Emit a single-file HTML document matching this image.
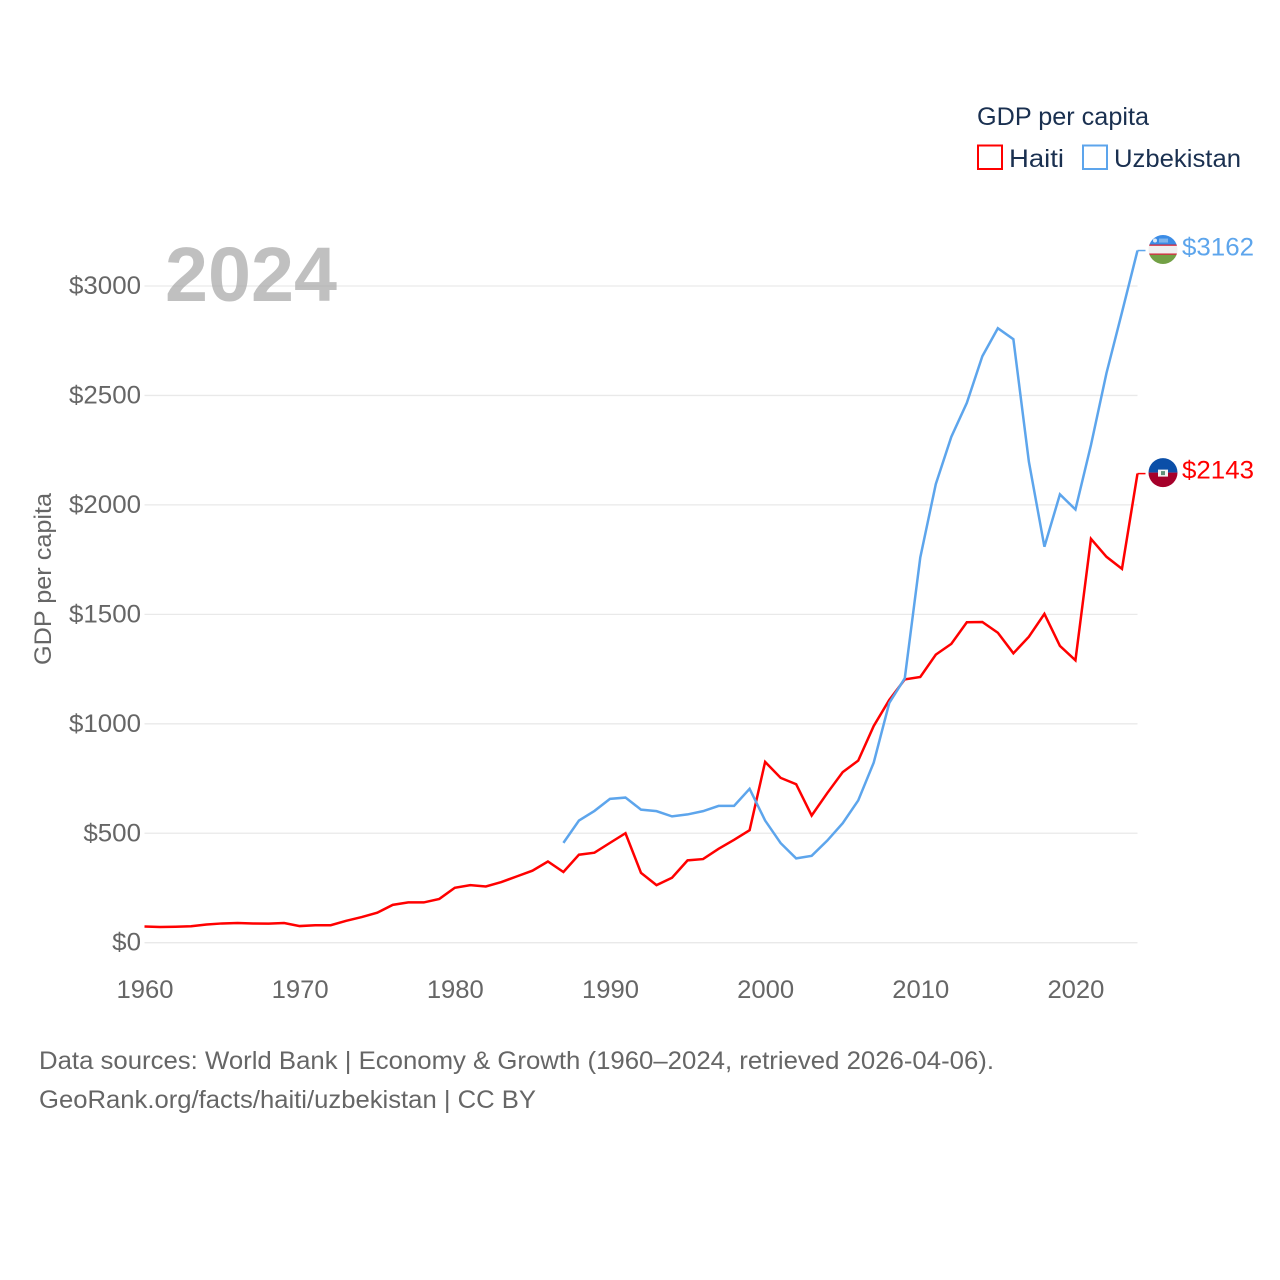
<!DOCTYPE html>
<html lang="en">
<head>
<meta charset="utf-8">
<title>GDP per capita: Haiti and Uzbekistan</title>
<style>
html,body{margin:0;padding:0;background:#fff;width:1280px;height:1280px;overflow:hidden}
svg{display:block;font-family:"Liberation Sans",sans-serif}
</style>
</head>
<body>
<svg id="chart" width="1280" height="1280" viewBox="0 0 1280 1280" xmlns="http://www.w3.org/2000/svg">
  <rect x="0" y="0" width="1280" height="1280" fill="#fff"/>
  <g id="grid"></g>
  <g id="yticks"></g>
  <g id="xticks"></g>
  <text transform="translate(51,579) rotate(-90)" text-anchor="middle" font-size="24" fill="#666" textLength="172" lengthAdjust="spacingAndGlyphs">GDP per capita</text>
  <text x="165" y="301" font-size="77" font-weight="700" fill="#a8a8a8" fill-opacity="0.72" textLength="172" lengthAdjust="spacingAndGlyphs">2024</text>
  <g id="series"></g>

  <g fill="#1a3050">
    <text x="977" y="125" font-size="25" textLength="172" lengthAdjust="spacingAndGlyphs">GDP per capita</text>
    <g>
      <rect x="978" y="145.500" width="24" height="23.500" fill="#fff" stroke="#ff0000" stroke-width="2"/>
      <text x="1009" y="167" font-size="25" textLength="55" lengthAdjust="spacingAndGlyphs">Haiti</text>
    </g>
    <g>
      <rect x="1083" y="145.500" width="24" height="23.500" fill="#fff" stroke="#5da5ec" stroke-width="2"/>
      <text x="1114" y="167" font-size="25" textLength="127" lengthAdjust="spacingAndGlyphs">Uzbekistan</text>
    </g>
  </g>

  <defs>
    <clipPath id="flag-clip"><circle cx="0" cy="0" r="14.500"/></clipPath>
  </defs>
  <g id="flag-uzbekistan" clip-path="url(#flag-clip)">
    <rect x="-15" y="-15" width="30" height="10" fill="#3b8ce6"/>
    <rect x="-15" y="-5" width="30" height="1.300" fill="#ce1126"/>
    <rect x="-15" y="-3.700" width="30" height="7.700" fill="#f0f0f0"/>
    <rect x="-15" y="4" width="30" height="1.300" fill="#ce1126"/>
    <rect x="-15" y="5.300" width="30" height="10" fill="#72a045"/>
    <circle cx="-8" cy="-9" r="2" fill="#dbe9f8"/>
    <rect x="-4" y="-11" width="9" height="4" fill="#7fb4ec"/>
  </g>
  <g id="flag-haiti" clip-path="url(#flag-clip)">
    <rect x="-15" y="-15" width="30" height="15" fill="#0b4fa8"/>
    <rect x="-15" y="0" width="30" height="15" fill="#a5002a"/>
    <rect x="-5" y="-3" width="10" height="7" fill="#f4f4f4"/>
    <rect x="-2" y="-1.500" width="4" height="4" fill="#5f8f78"/>
  </g>
  <text id="label-uzbekistan" x="1182" font-size="25" fill="#5da5ec" textLength="72" lengthAdjust="spacingAndGlyphs"></text>
  <text id="label-haiti" x="1182" font-size="25" fill="#ff0000" textLength="72" lengthAdjust="spacingAndGlyphs"></text>

  <g font-size="25" fill="#666">
    <text x="39" y="1069" textLength="955" lengthAdjust="spacingAndGlyphs">Data sources: World Bank | Economy &amp; Growth (1960–2024, retrieved 2026-04-06).</text>
    <text x="39" y="1108" textLength="497" lengthAdjust="spacingAndGlyphs">GeoRank.org/facts/haiti/uzbekistan | CC BY</text>
  </g>
</svg>
<script>
const yTickValues = [0, 500, 1000, 1500, 2000, 2500, 3000];
const xTickYears = [1960, 1970, 1980, 1990, 2000, 2010, 2020];
const haitiStartYear = 1960;
const haitiValues = [74, 72, 73, 75, 83, 88, 90, 88, 87, 90, 76, 80, 80, 100, 117, 137, 173, 184, 184, 200,
  251, 263, 257, 277, 303, 329, 371, 323, 402, 411, 456, 500, 319, 263, 297, 376, 382, 429, 470, 514,
  826, 753, 724, 581, 683, 779, 832, 990, 1109, 1203, 1214, 1316, 1365, 1464, 1465, 1416, 1322, 1398, 1502, 1356,
  1290, 1845, 1763, 1708, 2143];
const uzbekistanStartYear = 1987;
const uzbekistanValues = [456, 558, 602, 657, 663, 608, 601, 577, 586, 601, 625, 625, 703,
  558, 455, 385, 397, 466, 546, 650, 823, 1095, 1208, 1760, 2095, 2311, 2466, 2679, 2807, 2757, 2197, 1809, 2048,
  1979, 2273, 2602, 2880, 3162];

const NS = 'http://www.w3.org/2000/svg';
const x = year => 144.5 + (year - 1960) * (1137.5 - 144.5) / 64;
const y = value => 942.7 - value * 0.2189;
const plotRight = x(2024);

const grid = document.getElementById('grid');
const yticks = document.getElementById('yticks');
const xticks = document.getElementById('xticks');
const seriesGroup = document.getElementById('series');

yTickValues.forEach(v => {
  const line = document.createElementNS(NS, 'line');
  
  
  line.setAttribute('x1', x(1960));
  line.setAttribute('x2', plotRight);
  line.setAttribute('y1', y(v));
  line.setAttribute('y2', y(v));
  line.setAttribute('stroke', '#e9e9e9');
  line.setAttribute('stroke-width', '1.300');
  grid.appendChild(line);

  const label = document.createElementNS(NS, 'text');
  
  
  const s = '$' + v;
  label.textContent = s;
  label.setAttribute('x', 141 - s.length * 14.4);
  label.setAttribute('y', y(v) + 8);
  label.setAttribute('font-size', '25');
  label.setAttribute('fill', '#666');
  label.setAttribute('textLength', s.length * 14.4);
  label.setAttribute('lengthAdjust', 'spacingAndGlyphs');
  yticks.appendChild(label);
});

xTickYears.forEach(yr => {
  const label = document.createElementNS(NS, 'text');
  
  
  label.textContent = yr;
  label.setAttribute('x', x(yr) - 28);
  label.setAttribute('y', 998);
  label.setAttribute('font-size', '25');
  label.setAttribute('fill', '#666');
  label.setAttribute('textLength', '57');
  label.setAttribute('lengthAdjust', 'spacingAndGlyphs');
  xticks.appendChild(label);
});

function drawSeries(name, color, startYear, values, flagId, labelId) {
  const pts = values.map((v, i) => x(startYear + i).toFixed(2) + ',' + y(v).toFixed(2));
  const path = document.createElementNS(NS, 'polyline');
  
  
  path.setAttribute('points', pts.join(' '));
  path.setAttribute('fill', 'none');
  path.setAttribute('stroke', color);
  path.setAttribute('stroke-width', '2.500');
  path.setAttribute('stroke-linejoin', 'miter');
  seriesGroup.appendChild(path);

  const last = values[values.length - 1];
  const ly = y(last);
  const stub = document.createElementNS(NS, 'line');
  
  
  stub.setAttribute('x1', plotRight);
  stub.setAttribute('x2', plotRight + 8);
  stub.setAttribute('y1', ly);
  stub.setAttribute('y2', ly);
  stub.setAttribute('stroke', color);
  stub.setAttribute('stroke-width', '1.500');
  seriesGroup.appendChild(stub);

  document.getElementById(flagId).setAttribute('transform', 'translate(1163,' + (ly - 1) + ')');
  const label = document.getElementById(labelId);
  label.textContent = '$' + last;
  label.setAttribute('y', ly + 5);
}

drawSeries('haiti', '#ff0000', haitiStartYear, haitiValues, 'flag-haiti', 'label-haiti');
drawSeries('uzbekistan', '#5da5ec', uzbekistanStartYear, uzbekistanValues, 'flag-uzbekistan', 'label-uzbekistan');
</script>
</body>
</html>
